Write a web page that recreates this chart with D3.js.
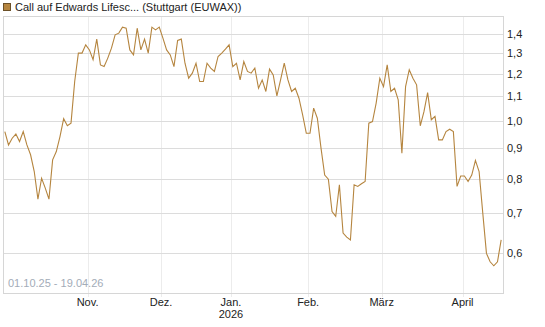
<!DOCTYPE html>
<html>
<head>
<meta charset="utf-8">
<script src="https://cdn.jsdelivr.net/npm/d3@7"></script>
<style>
  body { margin: 0; background: #fff; }
  text { font-family: "Liberation Sans", Arial, sans-serif; }
</style>
</head>
<body>
<div id="chart"></div>
<script>
// DATA - one value per trading day, 01.10.25 .. 17.04.26
const prices = [
  0.960, 0.912, 0.936, 0.951, 0.924, 0.960, 0.912, 0.878, 0.823, 0.740,
  0.802, 0.772, 0.740, 0.861, 0.889, 0.942, 1.009, 0.982, 0.992, 1.165,
  1.300, 1.300, 1.342, 1.316, 1.267, 1.372, 1.242, 1.234, 1.275, 1.325,
  1.395, 1.404, 1.437, 1.431, 1.316, 1.291, 1.431, 1.316, 1.372, 1.300,
  1.437, 1.422, 1.437, 1.377, 1.316, 1.291, 1.234, 1.365, 1.372, 1.250,
  1.180, 1.203, 1.250, 1.165, 1.165, 1.250, 1.227, 1.211, 1.283, 1.300,
  1.320, 1.342, 1.234, 1.250, 1.172, 1.258, 1.211, 1.203, 1.227, 1.135,
  1.172, 1.121, 1.222, 1.195, 1.102, 1.172, 1.250, 1.172, 1.121, 1.135,
  1.092, 1.024, 0.954, 0.954, 1.051, 1.011, 0.901, 0.812, 0.799, 0.705,
  0.692, 0.782, 0.649, 0.639, 0.632, 0.782, 0.777, 0.785, 0.792, 0.992,
  0.998, 1.072, 1.180, 1.142, 1.242, 1.121, 1.135, 1.085, 0.883, 1.142,
  1.219, 1.180, 1.150, 0.982, 1.037, 1.116, 1.005, 1.018, 0.930, 0.930,
  0.960, 0.969, 0.960, 0.777, 0.809, 0.809, 0.792, 0.812, 0.859, 0.823,
  0.701, 0.600, 0.581, 0.572, 0.581, 0.632
];
const monthStarts = [23, 43, 62, 83, 103, 125];
const monthLabels = ["Nov.", "Dez.", "Jan.", "Feb.", "März", "April"];
const yearLabels = ["", "", "2026", "", "", ""];
const yTicks = [0.6, 0.7, 0.8, 0.9, 1.0, 1.1, 1.2, 1.3, 1.4];
const title = "Call auf Edwards Lifesc... (Stuttgart (EUWAX))";
const rangeText = "01.10.25 - 19.04.26";

const width = 545, height = 327;
const margin = {top: 16, right: 42, bottom: 34, left: 3};
const lineColor = "#b5853f";

const svg = d3.select("#chart").append("svg")
    .attr("width", width)
    .attr("height", height);

const x = d3.scaleLinear()
    .domain([-0.5, prices.length - 0.5])
    .range([margin.left, width - margin.right]);
const y = d3.scaleLog()
    .domain([0.515, 1.5])
    .range([height - margin.bottom, margin.top]);

// legend / title
svg.append("rect")
    .attr("x", 3.5).attr("y", 3.5)
    .attr("width", 7).attr("height", 7)
    .attr("fill", lineColor)
    .attr("stroke", "#6b5028");
svg.append("text")
    .attr("x", 15).attr("y", 11)
    .attr("font-size", 11)
    .attr("fill", "#222")
    .text(title);

// vertical grid at month starts
svg.append("g")
    .selectAll("line")
    .data(monthStarts)
    .join("line")
        .attr("x1", d => Math.round(x(d - 0.5)) + 0.5)
        .attr("x2", d => Math.round(x(d - 0.5)) + 0.5)
        .attr("y1", margin.top)
        .attr("y2", height - margin.bottom + 4)
        .attr("stroke", "#ececec");

// horizontal grid
svg.append("g")
    .selectAll("line")
    .data(yTicks)
    .join("line")
        .attr("x1", margin.left)
        .attr("x2", width - margin.right)
        .attr("y1", d => Math.round(y(d)) + 0.5)
        .attr("y2", d => Math.round(y(d)) + 0.5)
        .attr("stroke", "#dcdcdc");

// frame
svg.append("rect")
    .attr("x", margin.left + 0.5)
    .attr("y", margin.top + 0.5)
    .attr("width", width - margin.left - margin.right)
    .attr("height", height - margin.top - margin.bottom)
    .attr("fill", "none")
    .attr("stroke", "#d6d6d6");

// y labels
svg.append("g")
    .selectAll("text")
    .data(yTicks)
    .join("text")
        .attr("x", width - margin.right + 4)
        .attr("y", d => y(d))
        .attr("dy", "0.35em")
        .attr("font-size", 11)
        .attr("fill", "#222")
        .text(d => d3.format(".1f")(d).replace(".", ","));

// x labels
const xl = svg.append("g")
    .selectAll("g")
    .data(monthStarts)
    .join("g")
        .attr("transform", d => `translate(${x(d - 0.5)},0)`);
xl.append("text")
    .attr("y", height - margin.bottom + 13)
    .attr("text-anchor", "middle")
    .attr("font-size", 11)
    .attr("fill", "#222")
    .text((d, i) => monthLabels[i]);
xl.append("text")
    .attr("y", height - margin.bottom + 25)
    .attr("text-anchor", "middle")
    .attr("font-size", 11)
    .attr("fill", "#222")
    .text((d, i) => yearLabels[i]);

// date range
svg.append("text")
    .attr("x", 8)
    .attr("y", height - margin.bottom - 6)
    .attr("font-size", 11)
    .attr("fill", "#a3acb8")
    .text(rangeText);

// price line
const line = d3.line()
    .x((d, i) => x(i))
    .y(d => y(d));
svg.append("path")
    .datum(prices)
    .attr("fill", "none")
    .attr("stroke", lineColor)
    .attr("stroke-width", 1.1)
    .attr("d", line);
</script>
</body>
</html>
